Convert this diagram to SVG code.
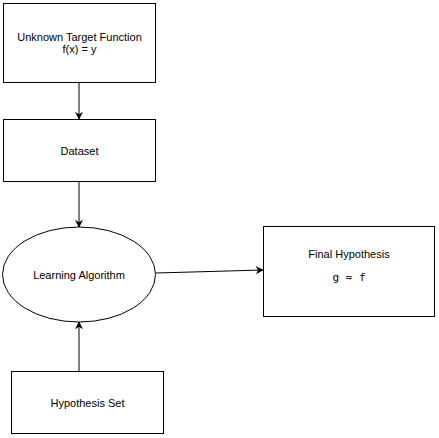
<svg xmlns="http://www.w3.org/2000/svg" width="439" height="438" viewBox="0 0 439 438">
<defs>
<marker id="arr" viewBox="0 0 10 10" refX="9" refY="5" markerWidth="8" markerHeight="8" markerUnits="userSpaceOnUse" orient="auto"><path d="M0,0 L10,5 L0,10 L3,5 Z" fill="#000"/></marker>
</defs>
<style>
.n{fill:#fff;stroke:#000;stroke-width:1}
.t{font-family:"Liberation Sans",Arial,sans-serif;font-size:11px;fill:#000;text-anchor:middle}
.m{font-family:"DejaVu Sans Mono","Liberation Mono",monospace;font-size:11px;fill:#000;text-anchor:middle}
.c{stroke:#000;stroke-width:1;fill:none;marker-end:url(#arr)}
</style>
<rect width="439" height="438" fill="#fff"/>
<g id="connectors">
<line class="c" x1="79" y1="83" x2="79" y2="119"/>
<line class="c" x1="79" y1="182" x2="79" y2="227"/>
<line class="c" x1="79" y1="371" x2="79" y2="322"/>
<line class="c" x1="156" y1="273" x2="263" y2="270"/>
</g>
<g id="target">
<rect class="n" x="3.5" y="3.5" width="152" height="79"/>
<text class="t" x="79.5" y="41">Unknown Target Function</text>
<text class="t" x="79.5" y="53">f(x) = y</text>
</g>
<g id="dataset">
<rect class="n" x="3.5" y="119.5" width="152" height="62"/>
<text class="t" x="79.5" y="155">Dataset</text>
</g>
<g id="learning">
<ellipse class="n" cx="79" cy="274.5" rx="76.5" ry="47.5"/>
<text class="t" x="79" y="279">Learning Algorithm</text>
</g>
<g id="hypset">
<rect class="n" x="11.5" y="371.5" width="152" height="62"/>
<text class="t" x="87.5" y="407">Hypothesis Set</text>
</g>
<g id="final">
<rect class="n" x="263.5" y="226.5" width="171" height="90"/>
<text class="t" x="349" y="258">Final Hypothesis</text>
<text class="m" x="349" y="281">g ≈ f</text>
</g>
</svg>
